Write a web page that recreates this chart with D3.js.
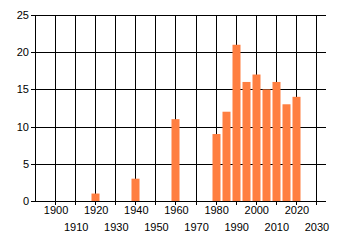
<!DOCTYPE html>
<html>
<head>
<meta charset="utf-8">
<script src="https://cdn.jsdelivr.net/npm/d3@7"></script>
<style>
  body { margin: 0; background: #fff; }
  svg text { font-family: "Liberation Sans", Arial, sans-serif; font-size: 11px; fill: #000; }
</style>
</head>
<body>
<div id="main"></div>
<script>
// data
const years = [1920, 1940, 1960, 1980, 1985, 1990, 1995, 2000, 2005, 2010, 2015, 2020];
const counts = [1, 3, 11, 9, 12, 21, 16, 17, 15, 16, 13, 14];
const xTicks = [1900, 1910, 1920, 1930, 1940, 1950, 1960, 1970, 1980, 1990, 2000, 2010, 2020, 2030];
const yTicks = [0, 5, 10, 15, 20, 25];

const W = 340, H = 245;
const PLOT = { left: 35, right: 326, top: 15, bottom: 201 };

const svg = d3.select('#main').append('svg')
  .attr('width', W)
  .attr('height', H);

const xScale = d3.scaleLinear().domain([1890, 2035]).range([PLOT.left, PLOT.right]);
const yScale = d3.scaleLinear().domain([0, 25]).range([PLOT.bottom, PLOT.top]);

// grid
svg.append('g')
  .selectAll('line.h')
  .data(yTicks)
  .enter().append('line')
  .attr('x1', PLOT.left - 4).attr('x2', PLOT.right)
  .attr('y1', (d) => Math.round(yScale(d)) + 0.5)
  .attr('y2', (d) => Math.round(yScale(d)) + 0.5)
  .attr('stroke', '#000');

svg.append('g')
  .selectAll('line.v')
  .data(xTicks)
  .enter().append('line')
  .attr('y1', PLOT.top).attr('y2', PLOT.bottom + 4)
  .attr('x1', (d) => Math.round(xScale(d)) + 0.5)
  .attr('x2', (d) => Math.round(xScale(d)) + 0.5)
  .attr('stroke', '#000');

// left axis line
svg.append('line')
  .attr('x1', PLOT.left + 0.5).attr('x2', PLOT.left + 0.5)
  .attr('y1', PLOT.top).attr('y2', PLOT.bottom + 1)
  .attr('stroke', '#000');

// bars
const barW = 8;
svg.append('g')
  .selectAll('rect')
  .data(years)
  .enter().append('rect')
  .attr('x', (d) => Math.round(xScale(d)) - barW / 2 + 0.5)
  .attr('width', barW)
  .attr('y', (d, i) => yScale(counts[i]))
  .attr('height', (d, i) => yScale(0) - yScale(counts[i]))
  .attr('fill', '#ff7f41');

// y labels
svg.append('g')
  .selectAll('text')
  .data(yTicks)
  .enter().append('text')
  .attr('x', 29)
  .attr('y', (d) => yScale(d) + 4)
  .attr('text-anchor', 'end')
  .text((d) => d);

// x labels, staggered on two rows
svg.append('g')
  .selectAll('text')
  .data(xTicks)
  .enter().append('text')
  .attr('x', (d) => xScale(d) + 1)
  .attr('y', (d, i) => (i % 2 === 0 ? 214 : 231))
  .attr('text-anchor', 'middle')
  .text((d) => d);
</script>
</body>
</html>
